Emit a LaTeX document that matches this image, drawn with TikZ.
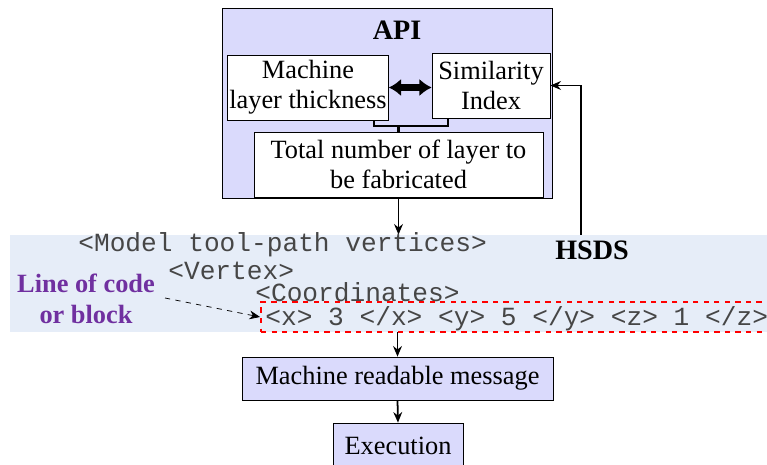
\documentclass[tikz,border=0pt]{standalone}
\usepackage{fontspec}
\setmainfont{Liberation Serif}
\setmonofont{Liberation Mono}
\usetikzlibrary{arrows.meta}
\definecolor{lavender}{RGB}{218,218,252}
\definecolor{bandblue}{RGB}{230,237,248}
\definecolor{codegray}{RGB}{70,70,70}
\definecolor{labelpurple}{RGB}{112,48,160}

\begin{document}
\begin{tikzpicture}[x=0.02cm,y=-0.02cm]
\tikzstyle{whitebox}=[rectangle,draw=black,fill=white,inner sep=1pt,align=center,font=\fontsize{15}{17}\selectfont]
\tikzstyle{lavbox}=[rectangle,draw=black,fill=lavender,inner sep=1pt,align=center,font=\fontsize{15}{17}\selectfont]
\tikzstyle{code}=[anchor=west,inner sep=0pt,text=codegray,font=\fontsize{14.9}{15}\ttfamily]
\tikzstyle{arr}=[-{Stealth[length=6pt,width=5pt]},line width=1pt]
\useasboundingbox (0,0) rectangle (767,465);
\node[lavbox,minimum width=6.6cm,minimum height=3.8cm] (api) at (387,103) {};
\node[font=\fontsize{16}{18}\selectfont\bfseries] (apititle) at (397,30) {API};
\node[whitebox,minimum width=3.2cm,minimum height=1.3cm] (mlt) at (308,87.5) {Machine\\layer thickness};
\node[whitebox,minimum width=2.36cm,minimum height=1.3cm] (sim) at (491,85.5) {Similarity\\Index};
\node[whitebox,minimum width=5.78cm,minimum height=1.3cm] (total) at (398.5,164.5) {Total number of layer to\\be fabricated};
\draw[line width=3.5pt,{Latex[length=7pt,width=10pt]}-{Latex[length=7pt,width=10pt]}] (mlt.east) -- (sim.west |- mlt.east);
\coordinate (bl) at (374,126);
\coordinate (br) at (448,126);
\draw[line width=1.3pt] (bl |- mlt.south) -- (bl) -- (br) -- (br |- sim.south);
\draw[line width=1.3pt] (total.north |- bl) -- (total.north);
\node[fill=bandblue,minimum width=15.14cm,minimum height=1.94cm,inner sep=0pt] (band) at (388.5,283.5) {};
\draw[arr] (total.south |- api.south) -- (total.south |- band.north);
\node[font=\fontsize{16}{18}\selectfont\bfseries] (hsds) at (592,250) {HSDS};
\draw[arr] (581,235) |- (sim.east);
\node[code] (model) at (78,245) {<Model tool-path vertices>};
\node[code] (vertex) at (168,271) {<Vertex>};
\node[code] (coord) at (255,292) {<Coordinates>};
\node[draw=red,dashed,line width=1.2pt,minimum width=10.4cm,minimum height=0.6cm,anchor=west] (block) at (260,317) {};
\node[code] (xyz) at (265,319) {<x> 3 </x> <y> 5 </y> <z> 1 </z>};
\node[align=center,text=labelpurple,font=\fontsize{15}{18}\selectfont\bfseries] (lbl) at (86,299) {Line of code\\or block};
\draw[dashed,-{Stealth[length=6pt,width=5pt]}] (165,298) -- (block.west);
\node[lavbox,minimum width=6.22cm,minimum height=0.86cm] (msg) at (397.5,378.5) {Machine readable message};
\node[lavbox,minimum width=2.6cm,minimum height=0.9cm] (exec) at (398,445.5) {Execution};
\draw[arr] (msg.north |- band.south) -- (msg.north);
\draw[arr] (msg.south) -- (exec.north);
\end{tikzpicture}
\end{document}
